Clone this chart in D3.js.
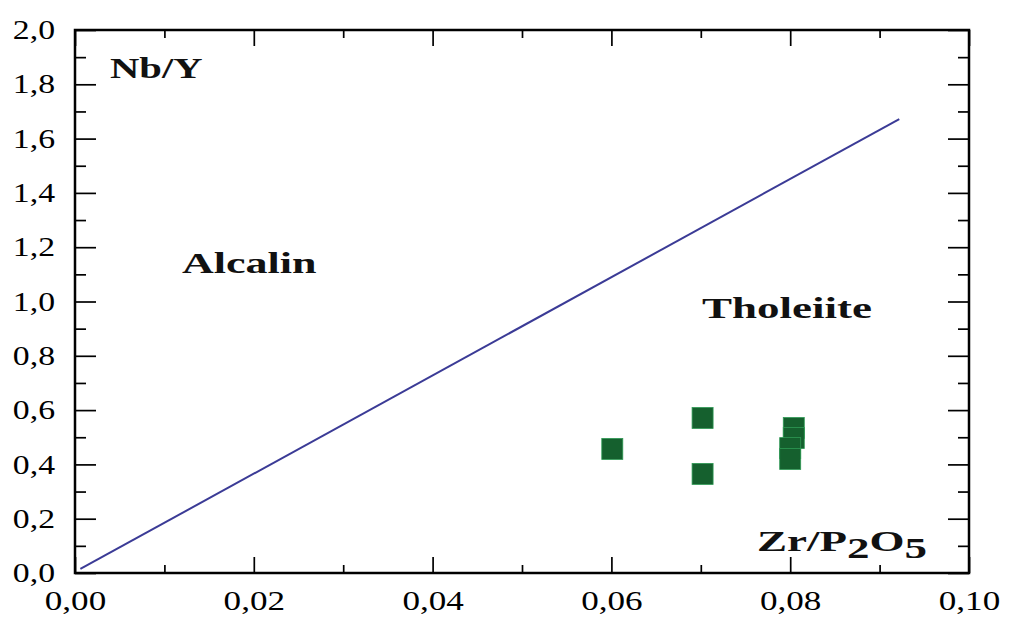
<!DOCTYPE html>
<html>
<head>
<meta charset="utf-8">
<script src="https://cdn.jsdelivr.net/npm/d3@7"></script>
<style>
body { margin: 0; background: #fff; }
svg { display: block; }
.tick text { font-family: "Liberation Serif", "Times New Roman", serif; font-size: 27px; fill: #000; }
.tick line { stroke: #000; stroke-width: 1.7; }
.lbl { font-family: "Liberation Serif", "Times New Roman", serif; font-weight: bold; font-size: 30px; fill: #111; }
</style>
</head>
<body>
<svg width="1009" height="621"></svg>
<script>
// samples: Zr/P2O5 vs Nb/Y
var zrP2O5 = [0.0601, 0.0702, 0.0702, 0.0804, 0.0804, 0.0800, 0.0800];
var nbY    = [0.457, 0.571, 0.365, 0.534, 0.497, 0.460, 0.420];

// boundary line Alcalin / Tholeiite
var boundaryX = [0.0006, 0.0922];
var boundaryY = [0.015, 1.672];

var xTicks = [0, 0.02, 0.04, 0.06, 0.08, 0.10];
var xMinor = [0.01, 0.03, 0.05, 0.07, 0.09];
var yTicks = [0, 0.2, 0.4, 0.6, 0.8, 1.0, 1.2, 1.4, 1.6, 1.8, 2.0];
var yMinor = [0.1, 0.3, 0.5, 0.7, 0.9, 1.1, 1.3, 1.5, 1.7, 1.9];

var svg = d3.select("svg"),
    mLeft = 75, mRight = 969, mTop = 30, mBottom = 573;

var x = d3.scaleLinear().domain([0, 0.1]).range([mLeft, mRight]);
var y = d3.scaleLinear().domain([0, 2]).range([mBottom, mTop]);

var fx = function(d) { return d3.format(".2f")(d).replace(".", ","); };
var fy = function(d) { return d3.format(".1f")(d).replace(".", ","); };

function noDomain(g) { g.select(".domain").remove(); }

// bottom axis, ticks pointing up
var xAxisG = svg.append("g").attr("transform", "translate(0," + mBottom + ")")
  .call(d3.axisBottom(x).tickValues(xTicks).tickSize(-16).tickSizeOuter(0).tickPadding(18).tickFormat(fx))
  .call(noDomain);
svg.append("g").attr("transform", "translate(0," + mBottom + ")")
  .call(d3.axisBottom(x).tickValues(xMinor).tickSize(-8).tickFormat(""))
  .call(noDomain);

// top axis, ticks pointing down
svg.append("g").attr("transform", "translate(0," + mTop + ")")
  .call(d3.axisTop(x).tickValues(xTicks).tickSize(-16).tickFormat(""))
  .call(noDomain);
svg.append("g").attr("transform", "translate(0," + mTop + ")")
  .call(d3.axisTop(x).tickValues(xMinor).tickSize(-8).tickFormat(""))
  .call(noDomain);

// left axis
var yAxisG = svg.append("g").attr("transform", "translate(" + mLeft + ",0)")
  .call(d3.axisLeft(y).tickValues(yTicks).tickSize(-21).tickPadding(20).tickFormat(fy))
  .call(noDomain);
svg.append("g").attr("transform", "translate(" + mLeft + ",0)")
  .call(d3.axisLeft(y).tickValues(yMinor).tickSize(-11).tickFormat(""))
  .call(noDomain);

// right axis
svg.append("g").attr("transform", "translate(" + mRight + ",0)")
  .call(d3.axisRight(y).tickValues(yTicks).tickSize(-21).tickFormat(""))
  .call(noDomain);
svg.append("g").attr("transform", "translate(" + mRight + ",0)")
  .call(d3.axisRight(y).tickValues(yMinor).tickSize(-11).tickFormat(""))
  .call(noDomain);

// the reference text is drawn wide
function widen(sel, k) {
  sel.each(function() {
    var w = this.getComputedTextLength();
    this.setAttribute("textLength", w * k);
    this.setAttribute("lengthAdjust", "spacingAndGlyphs");
  });
}
widen(xAxisG.selectAll("text").filter(function() { return this.textContent; }), 1.3);
widen(yAxisG.selectAll("text").filter(function() { return this.textContent; }), 1.25);

// frame
svg.append("rect")
  .attr("x", mLeft).attr("y", mTop)
  .attr("width", mRight - mLeft).attr("height", mBottom - mTop)
  .attr("fill", "none").attr("stroke", "#000").attr("stroke-width", 2.5);

// boundary
var line = d3.line()
  .x(function(d) { return x(d[0]); })
  .y(function(d) { return y(d[1]); });
svg.append("path")
  .datum(d3.zip(boundaryX, boundaryY))
  .attr("d", line)
  .attr("fill", "none")
  .attr("stroke", "#3b3b96")
  .attr("stroke-width", 2);

// samples
var s = 21;
svg.selectAll(".pt")
  .data(d3.zip(zrP2O5, nbY))
  .enter().append("rect")
  .attr("class", "pt")
  .attr("x", function(d) { return x(d[0]) - s / 2; })
  .attr("y", function(d) { return y(d[1]) - s / 2; })
  .attr("width", s).attr("height", s)
  .attr("fill", "#15602e")
  .attr("stroke", "#2f9a55")
  .attr("stroke-width", 0.8);

// labels, stretched to the reference widths
function label(px, py, w) {
  var t = svg.append("text").attr("class", "lbl");
  t.fit = function() {
    var bw = t.node().getBBox().width;
    t.attr("transform", "translate(" + px + "," + py + ") scale(" + (w / bw) + ",1)");
    return t;
  };
  return t;
}
label(110, 78, 93).text("Nb/Y").fit();
label(182, 273, 135).text("Alcalin").fit();
label(702, 318, 170).text("Tholeiite").fit();
var zt = label(757, 551, 170);
zt.append("tspan").text("Zr/P");
zt.append("tspan").attr("dy", 7).text("2");
zt.append("tspan").attr("dy", -7).text("O");
zt.append("tspan").attr("dy", 7).text("5");
zt.fit();
</script>
</body>
</html>
